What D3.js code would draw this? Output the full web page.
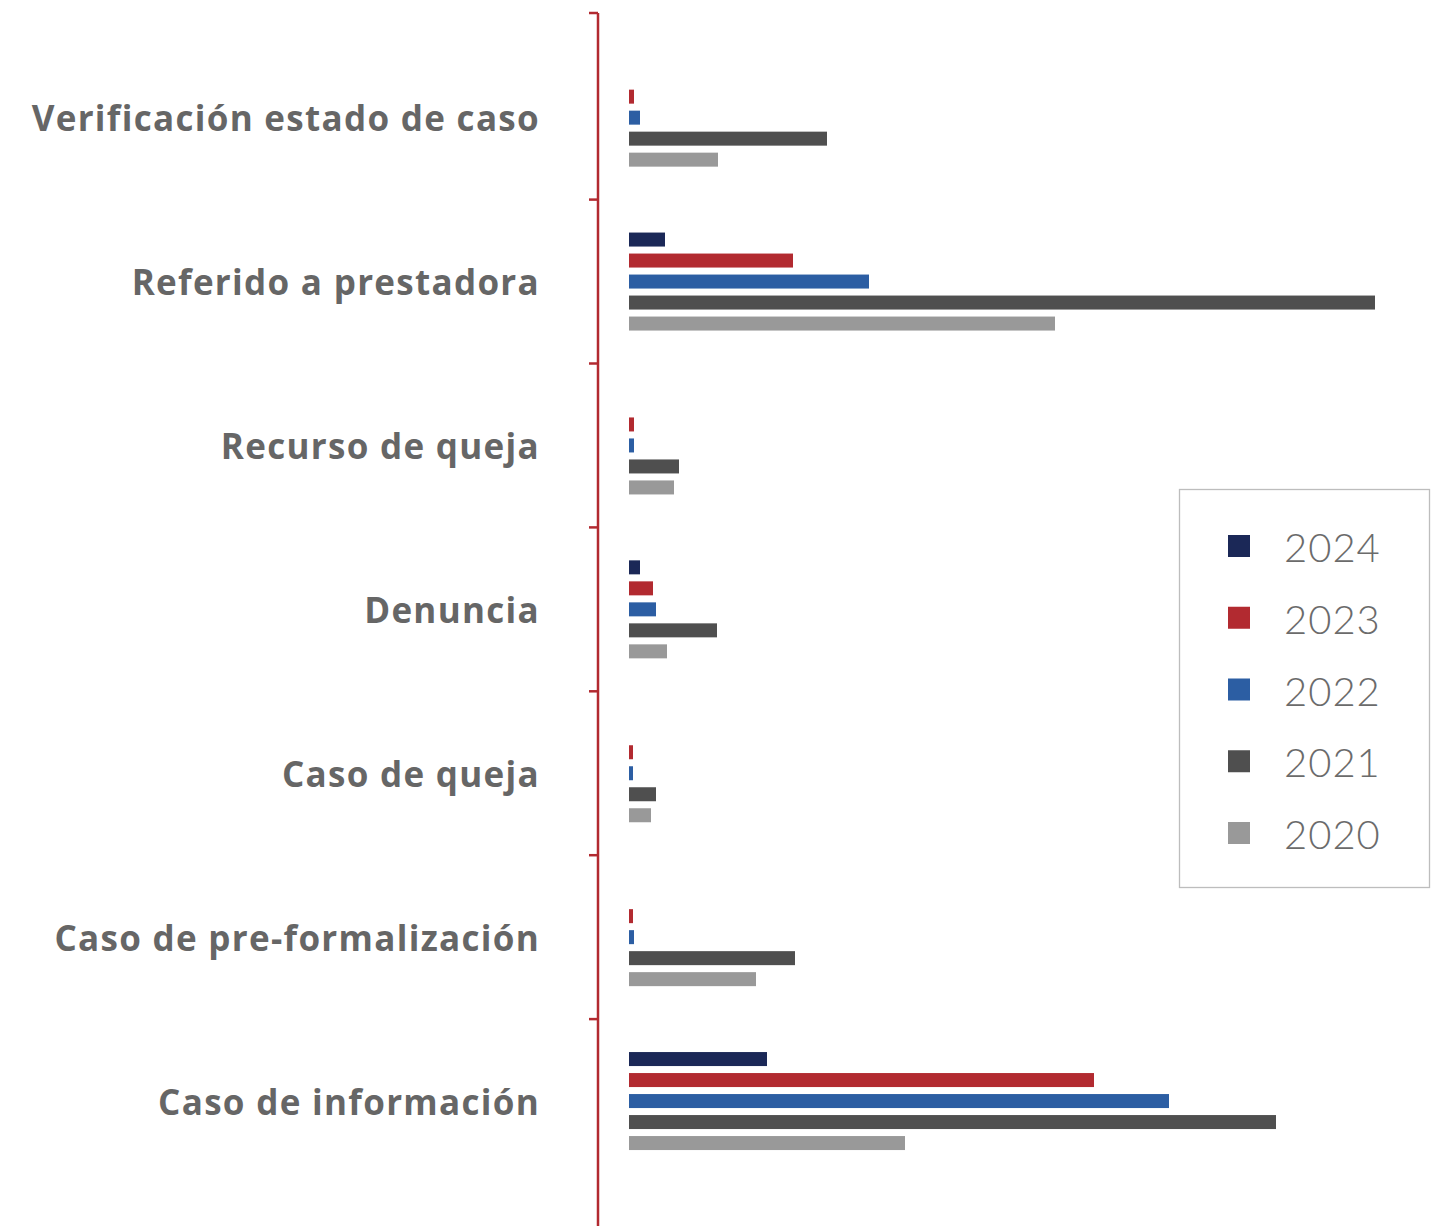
<!DOCTYPE html>
<html>
<head>
<meta charset="utf-8">
<script src="https://cdn.jsdelivr.net/npm/d3@7"></script>
<style>
  html, body { margin: 0; padding: 0; background: #fff; }
  svg { display: block; }
  .cat-label { font-family: "Open Sans", Lato, sans-serif; font-weight: 700; fill: #666; font-size: 35px; letter-spacing: 1.3px; }
  .legend-label { font-family: Lato, "Open Sans", sans-serif; font-weight: 300; fill: #6b6b6b; font-size: 40px; letter-spacing: 1px; }
</style>
</head>
<body>
<div id="chart"></div>
<script>
const categories = [
  "Verificación estado de caso",
  "Referido a prestadora",
  "Recurso de queja",
  "Denuncia",
  "Caso de queja",
  "Caso de pre-formalización",
  "Caso de información"
];

const years = ["2024", "2023", "2022", "2021", "2020"];
const colors = ["#1b2857", "#b22a30", "#2c5ea3", "#4f4f4f", "#999999"];

// one array per year, same order as categories
const values2024 = [0, 36, 0, 11, 0, 0, 138];
const values2023 = [5, 164, 5, 24, 4, 4, 465];
const values2022 = [11, 240, 5, 27, 4, 5, 540];
const values2021 = [198, 746, 50, 88, 27, 166, 647];
const values2020 = [89, 426, 45, 38, 22, 127, 276];

const series = [values2024, values2023, values2022, values2021, values2020];

const W = 1435, H = 1226;
const axisX = 598;

const svg = d3.select("#chart")
  .append("svg")
  .attr("width", W)
  .attr("height", H);

const y = d3.scaleBand()
  .domain(categories)
  .range([35.7, 1183]);

const yInner = d3.scaleBand()
  .domain(years)
  .range([-52.5, 52.5])
  .paddingInner(1 / 3)
  .paddingOuter(1 / 6);

const x = d3.scaleLinear()
  .domain([0, 750])
  .range([629, 1379]);

const color = d3.scaleOrdinal().domain(years).range(colors);

// ---------- bars ----------
const rows = categories.map((c, i) => ({
  category: c,
  bars: years.map((yr, j) => ({ year: yr, value: series[j][i] }))
}));

const groups = svg.append("g")
  .selectAll("g")
  .data(rows)
  .join("g")
  .attr("transform", d => `translate(0,${y(d.category) + y.bandwidth() / 2})`);

groups.selectAll("rect")
  .data(d => d.bars.filter(b => b.value > 0))
  .join("rect")
  .attr("x", x(0))
  .attr("y", d => yInner(d.year))
  .attr("width", d => x(d.value) - x(0))
  .attr("height", yInner.bandwidth())
  .attr("fill", d => color(d.year));

// ---------- axis ----------
const axisColor = "#b22a30";
const axisTop = 13;

svg.append("line")
  .attr("x1", axisX).attr("x2", axisX)
  .attr("y1", axisTop).attr("y2", H)
  .attr("stroke", axisColor)
  .attr("stroke-width", 2.5);

const tickYs = [axisTop].concat(categories.slice(1).map(c => y(c)));

svg.append("g")
  .selectAll("line")
  .data(tickYs)
  .join("line")
  .attr("x1", axisX - 9).attr("x2", axisX)
  .attr("y1", d => d).attr("y2", d => d)
  .attr("stroke", axisColor)
  .attr("stroke-width", 2.5);

svg.append("g")
  .selectAll("text")
  .data(categories)
  .join("text")
  .attr("class", "cat-label")
  .attr("x", 540)
  .attr("y", d => y(d) + y.bandwidth() / 2)
  .attr("text-anchor", "end")
  .attr("dominant-baseline", "central")
  .text(d => d);

// ---------- legend ----------
const legendY = d3.scalePoint().domain(years).range([546, 833]);

svg.append("rect")
  .attr("x", 1179.5).attr("y", 489.5)
  .attr("width", 250).attr("height", 398)
  .attr("fill", "#fff")
  .attr("stroke", "#bdbdbd")
  .attr("stroke-width", 1.3);

const legend = svg.append("g")
  .selectAll("g")
  .data(years)
  .join("g")
  .attr("transform", d => `translate(0,${legendY(d)})`);

legend.append("rect")
  .attr("x", 1228).attr("y", -11)
  .attr("width", 22).attr("height", 22)
  .attr("fill", d => color(d));

legend.append("text")
  .attr("class", "legend-label")
  .attr("x", 1284)
  .attr("y", 1)
  .attr("dominant-baseline", "central")
  .text(d => d);
</script>
</body>
</html>
